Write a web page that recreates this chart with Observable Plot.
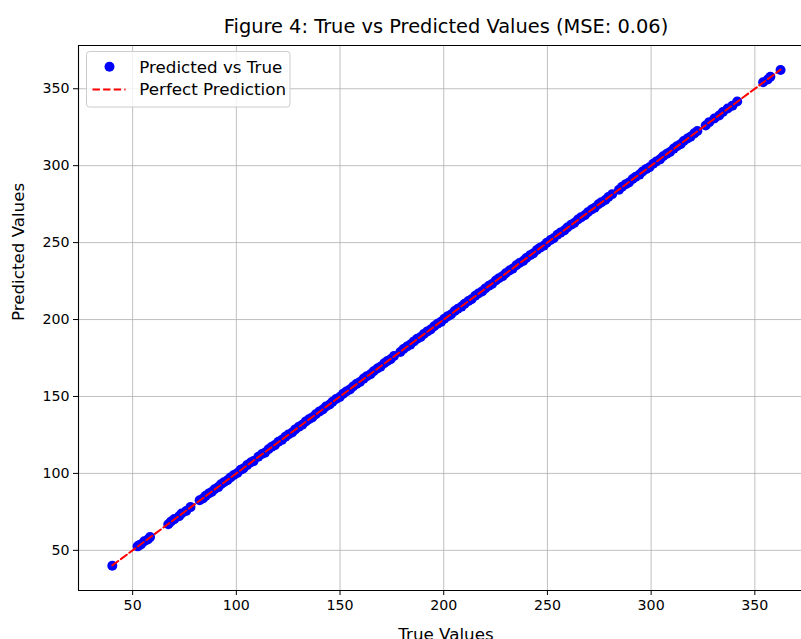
<!DOCTYPE html>
<html>
<head>
<meta charset="utf-8">
<script src="https://cdn.jsdelivr.net/npm/d3@7"></script>
<script src="https://cdn.jsdelivr.net/npm/@observablehq/plot@0.6"></script>
<style>
  html, body { margin: 0; padding: 0; background: #fff; overflow: hidden; }
  #chart { width: 801px; height: 639px; overflow: hidden; }
</style>
</head>
<body>
<div id="chart"></div>
<script>
const titleText = "Figure 4: True vs Predicted Values (MSE: 0.06)";
const xLabel = "True Values";
const yLabel = "Predicted Values";
const legendLabels = ["Predicted vs True", "Perfect Prediction"];
const xTicks = [50, 100, 150, 200, 250, 300, 350];
const yTicks = [50, 100, 150, 200, 250, 300, 350];

const trueVals = [40.2, 52.4, 53.1, 54.0, 55.6, 57.3, 58.4, 67.2, 68.5, 70.1, 72.4, 73.6, 75.8, 77.9, 82.3, 83.9, 85.2, 86.7, 88.1, 89.5, 91.3, 92.6, 94.0, 95.7, 97.2, 98.8, 100.5, 102.1, 103.4, 105.2, 106.9, 108.3, 110.6, 112.4, 113.8, 115.5, 117.1, 118.6, 120.3, 122.0, 123.7, 125.1, 126.9, 128.4, 130.2, 131.8, 133.5, 135.0, 136.6, 138.3, 140.1, 141.7, 143.2, 145.0, 146.4, 148.1, 149.9, 151.5, 153.0, 154.8, 156.3, 158.0, 159.6, 161.4, 162.9, 164.7, 166.2, 168.0, 169.5, 171.3, 172.8, 174.4, 176.0, 179.1, 180.6, 182.3, 183.9, 185.6, 187.2, 188.9, 190.4, 192.1, 193.7, 195.4, 197.0, 198.7, 200.3, 202.0, 203.5, 205.3, 206.8, 208.6, 210.1, 211.9, 213.4, 215.2, 216.7, 218.5, 220.0, 221.8, 223.3, 225.1, 226.6, 228.4, 229.9, 231.7, 233.2, 235.0, 236.5, 238.3, 239.8, 241.6, 243.1, 244.9, 246.4, 248.2, 249.7, 251.5, 253.0, 254.8, 256.3, 258.1, 259.6, 261.4, 262.9, 264.7, 266.2, 268.0, 269.5, 271.3, 272.8, 274.6, 276.1, 277.9, 279.4, 281.2, 284.5, 286.0, 287.8, 289.3, 291.1, 292.6, 294.4, 295.9, 297.7, 299.2, 301.0, 302.5, 304.3, 305.8, 307.6, 309.1, 310.9, 312.4, 314.2, 315.7, 317.5, 319.0, 320.8, 322.3, 326.3, 328.0, 330.5, 332.8, 334.6, 336.9, 339.2, 341.5, 354.0, 356.2, 357.5, 362.4];

const predVals = [40.0, 52.6, 53.3, 53.8, 55.9, 57.1, 58.6, 67.0, 68.8, 70.3, 72.2, 73.9, 75.6, 78.1, 82.5, 83.7, 85.4, 86.9, 87.9, 89.7, 91.1, 92.9, 94.2, 95.5, 97.4, 99.0, 100.3, 102.4, 103.2, 105.4, 107.1, 108.0, 110.8, 112.6, 113.5, 115.7, 117.3, 118.4, 120.6, 121.8, 123.9, 125.3, 126.6, 128.6, 130.4, 131.6, 133.8, 135.2, 136.4, 138.5, 140.3, 141.5, 143.5, 144.8, 146.6, 148.3, 149.7, 151.8, 153.2, 154.6, 156.5, 158.2, 159.4, 161.6, 163.2, 164.5, 166.4, 168.2, 169.3, 171.6, 173.0, 174.2, 176.3, 178.9, 180.8, 182.5, 183.7, 185.8, 187.5, 188.7, 190.6, 192.3, 193.5, 195.6, 197.3, 198.5, 200.5, 202.2, 203.3, 205.6, 207.0, 208.4, 210.3, 212.1, 213.2, 215.5, 216.9, 218.3, 220.2, 222.0, 223.1, 225.4, 226.8, 228.2, 230.1, 231.9, 233.0, 235.3, 236.7, 238.1, 240.0, 241.8, 242.9, 245.2, 246.6, 248.0, 249.9, 251.7, 252.8, 255.1, 256.5, 257.9, 259.8, 261.6, 262.7, 265.0, 266.4, 267.8, 269.7, 271.5, 272.6, 274.9, 276.3, 277.7, 279.6, 281.4, 284.3, 286.3, 288.0, 289.1, 291.3, 292.8, 294.2, 296.2, 297.9, 299.0, 301.2, 302.7, 304.1, 306.1, 307.8, 308.9, 311.1, 312.6, 314.0, 316.0, 317.7, 318.8, 321.0, 322.5, 326.1, 328.3, 330.7, 332.6, 334.9, 337.1, 339.0, 341.7, 354.2, 356.0, 357.8, 362.2];

const points = trueVals.map((t, i) => ({t, p: predVals[i]}));
const [lo, hi] = d3.extent(trueVals);
const diag = [{v: lo}, {v: hi}];

const W = 801, H = 639;
const mL = 78, mR = 0, mT = 45, mB = 49;
const xDomain = [23.9, 372.5];
const yDomain = [23.9, 378.1];

const plot = Plot.plot({
  width: W,
  height: H,
  marginLeft: mL,
  marginRight: mR,
  marginTop: mT,
  marginBottom: mB,
  style: {fontFamily: "'DejaVu Sans', sans-serif", fontSize: "14.2px", color: "#000", background: "#fff", overflow: "hidden"},
  x: {domain: xDomain, label: null},
  y: {domain: yDomain, label: null},
  marks: [
    Plot.gridX(xTicks, {stroke: "#b0b0b0", strokeOpacity: 1, strokeWidth: 0.8}),
    Plot.gridY(yTicks, {stroke: "#b0b0b0", strokeOpacity: 1, strokeWidth: 0.8}),
    Plot.dot(points, {x: "t", y: "p", r: 5, fill: "#0000ff", stroke: "none"}),
    Plot.line(diag, {x: "v", y: "v", stroke: "#ff0000", strokeWidth: 2, strokeDasharray: "7.4,3.2"}),
    Plot.ruleX([xDomain[0]], {stroke: "#000", strokeWidth: 1.1}),
    Plot.ruleY([yDomain[0]], {stroke: "#000", strokeWidth: 1.1}),
    Plot.ruleY([yDomain[1]], {stroke: "#000", strokeWidth: 1.1}),
    Plot.axisX({ticks: xTicks, tickSize: 5, tickPadding: 4, fontSize: 14.2, label: null}),
    Plot.axisY({ticks: yTicks, tickSize: 5, tickPadding: 4, fontSize: 14.2, label: null}),
    Plot.text([titleText], {frameAnchor: "top", dx: 6, dy: -19, fontSize: 19.4, fill: "#000", lineAnchor: "middle"}),
    Plot.text([xLabel], {frameAnchor: "bottom", dx: 6, dy: 44, fontSize: 16.7, fill: "#000", lineAnchor: "middle"}),
    Plot.text([yLabel], {frameAnchor: "left", dx: -60, dy: 3, rotate: -90, fontSize: 16.7, fill: "#000", lineAnchor: "middle"})
  ]
});

// Legend (upper left, matplotlib style)
const svg = d3.select(plot);
const lg = svg.append("g").attr("font-family", "'DejaVu Sans', sans-serif").attr("font-size", "16.7px").attr("text-anchor", "start");
lg.append("rect").attr("x", 86.5).attr("y", 51.5).attr("width", 203.5).attr("height", 55.5)
  .attr("rx", 3).attr("fill", "#fff").attr("fill-opacity", 0.8).attr("stroke", "#cccccc").attr("stroke-width", 1);
lg.append("circle").attr("cx", 109.5).attr("cy", 66.7).attr("r", 5).attr("fill", "#0000ff");
lg.append("line").attr("x1", 92.5).attr("x2", 125.5).attr("y1", 89.5).attr("y2", 89.5)
  .attr("stroke", "#ff0000").attr("stroke-width", 2).attr("stroke-dasharray", "7.4,3.2");
lg.append("text").attr("x", 139.3).attr("y", 66.7).attr("dy", "0.35em").attr("text-anchor", "start").attr("fill", "#000").text(legendLabels[0]);
lg.append("text").attr("x", 139.3).attr("y", 89.5).attr("dy", "0.35em").attr("text-anchor", "start").attr("fill", "#000").text(legendLabels[1]);

document.getElementById("chart").appendChild(plot);
</script>
</body>
</html>
